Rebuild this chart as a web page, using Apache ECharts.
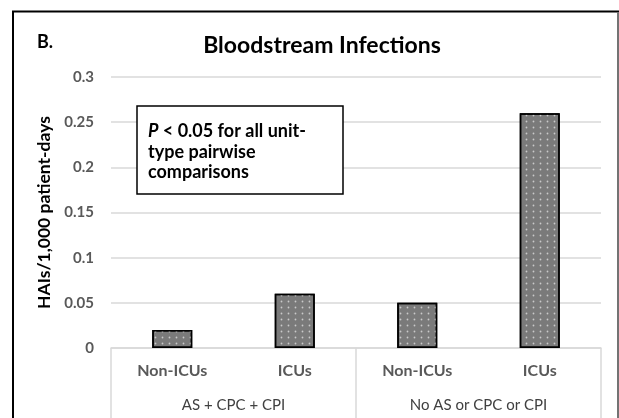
<!DOCTYPE html>
<html><head><meta charset="utf-8">
<script src="https://cdn.jsdelivr.net/npm/echarts@6/dist/echarts.min.js"></script>
<style>html,body{margin:0;padding:0;background:#fff}#c{width:619px;height:418px}</style>
</head><body><div id="c"></div>
<script>
const categories = ['Non-ICUs', 'ICUs', 'Non-ICUs', 'ICUs'];
const groups = ['AS + CPC + CPI', 'No AS or CPC or CPI'];
const values = [0.02, 0.06, 0.05, 0.26];
const yTicks = { min: 0, max: 0.3, interval: 0.05 };

const FONT = 'Lato';
const chart = echarts.init(document.getElementById('c'), null, { renderer: 'canvas' });
chart.setOption({
  animation: false,
  backgroundColor: '#fff',
  grid: { left: 111, right: 18, top: 77, bottom: 70, containLabel: false },
  title: {
    text: 'Bloodstream Infections', left: 317, top: 29, textAlign: 'center',
    textStyle: { fontFamily: FONT, fontWeight: 'bold', fontSize: 23, color: '#000' }
  },
  graphic: [
    { type: 'rect', shape: { x: 13, y: 11.5, width: 605, height: 420 },
      style: { fill: null, stroke: '#000', lineWidth: 2 }, silent: true },
    { type: 'line', shape: { x1: 618, y1: 12, x2: 618, y2: 418 },
      style: { stroke: '#9a9a9a', lineWidth: 1.5 }, silent: true, z: 5 },
    { type: 'text', left: 37, top: 33,
      style: { text: 'B.', fontFamily: FONT, fontWeight: 'bold', fontSize: 18, fill: '#000' } },
    { type: 'rect', shape: { x: 137, y: 106, width: 206, height: 88 },
      style: { fill: '#fff', stroke: '#000', lineWidth: 1.5 }, z: 10 },
    { type: 'text', left: 148, top: 121, z: 11,
      style: {
        text: '{i|P} < 0.05 for all unit-\ntype pairwise\ncomparisons',
        fontFamily: FONT, fontWeight: 'bold', fontSize: 18, fill: '#000', lineHeight: 20.5,
        rich: { i: { fontStyle: 'italic', fontFamily: FONT, fontWeight: 'bold', fontSize: 18, fill: '#000', lineHeight: 20.5 } }
      } }
  ],
  xAxis: [
    { type: 'category', data: categories, position: 'bottom',
      axisLine: { show: true, lineStyle: { color: '#d9d9d9', width: 1.5 } },
      axisTick: { show: false },
      axisLabel: { margin: 15, fontFamily: FONT, fontWeight: 'bold', fontSize: 16, color: '#595959', interval: 0 } },
    { type: 'category', data: groups, position: 'bottom',
      axisLine: { show: false },
      axisTick: { show: true, length: 72, lineStyle: { color: '#d9d9d9', width: 1.5 } },
      axisLabel: { margin: 50, fontFamily: FONT, fontSize: 15, color: '#404040', interval: 0 } }
  ],
  yAxis: {
    type: 'value', min: yTicks.min, max: yTicks.max, interval: yTicks.interval,
    name: 'HAIs/1,000 patient-days', nameLocation: 'middle', nameRotate: 90, nameGap: 55,
    nameTextStyle: { fontFamily: FONT, fontWeight: 'bold', fontSize: 17.5, color: '#000' },
    axisLine: { show: false }, axisTick: { show: false },
    axisLabel: { margin: 17, fontFamily: FONT, fontWeight: 'bold', fontSize: 15, color: '#595959' },
    splitLine: { lineStyle: { color: '#d9d9d9', width: 1.5 } }
  },
  series: [{
    type: 'bar', data: values, xAxisIndex: 0, barWidth: 40,
    itemStyle: {
      color: '#7a7a7a', borderColor: '#000', borderWidth: 1.5,
      decal: { symbol: 'circle', symbolSize: 0.6, color: 'rgba(255,255,255,0.6)',
               dashArrayX: [[3, 4]], dashArrayY: [3, 3], rotation: 0 }
    }
  }]
});
</script></body></html>
